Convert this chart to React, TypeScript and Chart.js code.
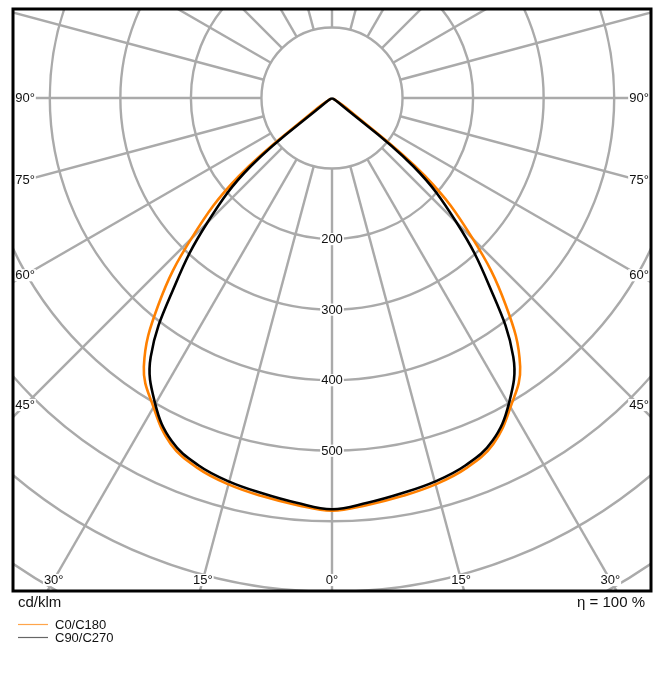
import React, { useEffect, useRef } from "react";
import { Chart, registerables } from "chart.js";

Chart.register(...registerables);

// Data (cd/klm)
const ANGLES = [0, 5, 10, 15, 20, 25, 30, 35, 40, 45, 50, 55, 60, 65, 70, 75, 80, 85, 90];
const C0_C180 = [585, 579, 573, 567, 558, 541, 506, 465, 383, 282, 172, 25, 3, 2, 2, 1, 1, 1, 1];
const C90_C270 = [583, 576, 569, 563, 554, 537, 501, 448, 346, 250, 150, 10, 0, 0, 0, 0, 0, 0, 0];

const RINGS = [100, 200, 300, 400, 500, 600, 700, 800, 900];
const RING_LABELS = [200, 300, 400, 500];
const SPOKES = [0, 15, 30, 45, 60, 75, 90, 105, 120, 135, 150, 165, 180, 195, 210, 225, 240, 255, 270, 285, 300, 315, 330, 345];
const ANGLE_LABELS = [-90, -75, -60, -45, -30, -15, 0, 15, 30, 45, 60, 75, 90];

const SERIES_NAMES = ["C0/C180", "C90/C270"];
const UNIT_TEXT = "cd/klm";
const ETA_TEXT = "η = 100 %";

const FONT = '"Liberation Sans", Arial, Helvetica, sans-serif';
const GRID_COLOR = "#aaaaaa";
const ORANGE = "#ff8000";

function toPoints(vals: number[]) {
  const pts: { x: number; y: number }[] = [];
  for (let i = ANGLES.length - 1; i >= 0; i--) {
    const t = (-ANGLES[i] * Math.PI) / 180;
    pts.push({ x: vals[i] * Math.sin(t), y: -vals[i] * Math.cos(t) });
  }
  for (let i = 1; i < ANGLES.length; i++) {
    const t = (ANGLES[i] * Math.PI) / 180;
    pts.push({ x: vals[i] * Math.sin(t), y: -vals[i] * Math.cos(t) });
  }
  return pts;
}

function labelWithBg(ctx: CanvasRenderingContext2D, text: string, x: number, y: number, size: number) {
  ctx.font = `${size}px ${FONT}`;
  const w = ctx.measureText(text).width;
  const h = size * 0.78;
  ctx.fillStyle = "#ffffff";
  ctx.fillRect(x - w / 2 - 1, y - h / 2 - 1, w + 2, h + 2);
  ctx.fillStyle = "#111111";
  ctx.textAlign = "center";
  ctx.textBaseline = "middle";
  ctx.fillText(text, x, y + 0.5);
}

const polarPlugin = {
  id: "polarGrid",
  beforeDatasetsDraw(chart: any) {
    const { ctx, chartArea: a, scales } = chart;
    const xs = scales.x;
    const ys = scales.y;
    const cx = xs.getPixelForValue(0);
    const cy = ys.getPixelForValue(0);
    const k = (xs.getPixelForValue(100) - cx) / 100;
    ctx.save();
    ctx.beginPath();
    ctx.rect(a.left, a.top, a.right - a.left, a.bottom - a.top);
    ctx.clip();
    ctx.strokeStyle = GRID_COLOR;
    ctx.lineWidth = 2.4;
    for (const r of RINGS) {
      ctx.beginPath();
      ctx.arc(cx, cy, r * k, 0, Math.PI * 2);
      ctx.stroke();
    }
    const inner = RINGS[0] * k;
    const outer = 1100 * k;
    for (const d of SPOKES) {
      const t = (d * Math.PI) / 180;
      const sx = Math.sin(t);
      const sy = Math.cos(t);
      ctx.beginPath();
      ctx.moveTo(cx + inner * sx, cy + inner * sy);
      ctx.lineTo(cx + outer * sx, cy + outer * sy);
      ctx.stroke();
    }
    for (const v of RING_LABELS) {
      labelWithBg(ctx, String(v), cx, cy + v * k, 13);
    }
    const L = a.left + 12;
    const R = a.right - 12;
    const B = a.bottom - 11;
    for (const d of ANGLE_LABELS) {
      const t = (d * Math.PI) / 180;
      const dx = Math.sin(t);
      const dy = Math.cos(t);
      const cands: number[] = [];
      if (dx < -1e-9) cands.push((L - cx) / dx);
      if (dx > 1e-9) cands.push((R - cx) / dx);
      if (dy > 1e-9) cands.push((B - cy) / dy);
      const tt = Math.min(...cands);
      labelWithBg(ctx, `${Math.abs(d)}°`, cx + tt * dx, cy + tt * dy, 13);
    }
    ctx.restore();
  },
  afterDatasetsDraw(chart: any) {
    const { ctx, chartArea: a } = chart;
    ctx.save();
    ctx.strokeStyle = "#000000";
    ctx.lineWidth = 3;
    ctx.strokeRect(a.left, a.top, a.right - a.left, a.bottom - a.top);
    ctx.restore();
  },
  afterDraw(chart: any) {
    const { ctx, chartArea: a } = chart;
    ctx.save();
    ctx.fillStyle = "#111111";
    ctx.textBaseline = "middle";
    ctx.font = `15px ${FONT}`;
    ctx.textAlign = "left";
    ctx.fillText(UNIT_TEXT, a.left + 5, a.bottom + 12);
    ctx.textAlign = "right";
    ctx.fillText(ETA_TEXT, a.right - 6, a.bottom + 12);
    const legendColors = ["#ffa54a", "#666666"];
    ctx.font = `13px ${FONT}`;
    ctx.textAlign = "left";
    for (let i = 0; i < SERIES_NAMES.length; i++) {
      const y = a.bottom + 33.5 + i * 13;
      ctx.strokeStyle = legendColors[i];
      ctx.lineWidth = 1.2;
      ctx.beginPath();
      ctx.moveTo(a.left + 5, y);
      ctx.lineTo(a.left + 35, y);
      ctx.stroke();
      ctx.fillStyle = "#111111";
      ctx.fillText(SERIES_NAMES[i], a.left + 42, y + 0.5);
    }
    ctx.restore();
  },
};

export default function App() {
  const ref = useRef<HTMLCanvasElement | null>(null);
  useEffect(() => {
    if (!ref.current) return;
    const K = 0.7055; // px per cd/klm
    const areaW = 638;
    const top = 89;
    const bottom = 493;
    const chart = new Chart(ref.current, {
      type: "scatter",
      data: {
        datasets: [
          {
            label: SERIES_NAMES[0],
            data: toPoints(C0_C180),
            showLine: true,
            borderColor: ORANGE,
            borderWidth: 2.6,
            pointRadius: 0,
            tension: 0.4,
            fill: false,
            order: 1,
          },
          {
            label: SERIES_NAMES[1],
            data: toPoints(C90_C270),
            showLine: true,
            borderColor: "#000000",
            borderWidth: 2.6,
            pointRadius: 0,
            tension: 0.4,
            fill: false,
            order: 0,
          },
        ],
      },
      options: {
        animation: false,
        responsive: false,
        devicePixelRatio: 1,
        layout: { padding: { left: 13, top: 9, right: 3, bottom: 86 } },
        scales: {
          x: { type: "linear", display: false, min: -areaW / 2 / K, max: areaW / 2 / K },
          y: { type: "linear", display: false, min: -bottom / K, max: top / K },
        },
        plugins: { legend: { display: false }, tooltip: { enabled: false } },
      },
      plugins: [polarPlugin],
    });
    return () => chart.destroy();
  }, []);
  return (
    <div style={{ position: "absolute", left: 0, top: 0, width: 654, height: 677, background: "#fff" }}>
      <canvas ref={ref} width={654} height={677} style={{ display: "block" }} />
    </div>
  );
}
